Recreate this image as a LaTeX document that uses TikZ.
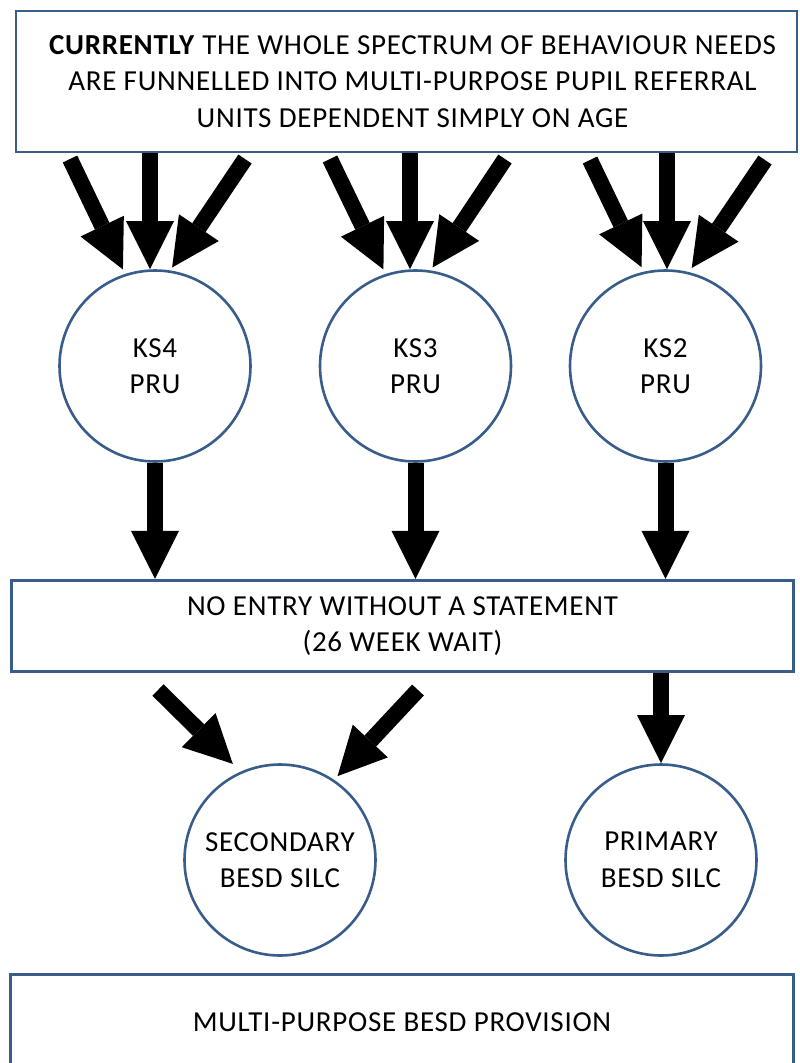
\documentclass[tikz,border=0pt]{standalone}
\usepackage{fontspec}
\setmainfont{Carlito}[LetterSpace=2.5]
\usetikzlibrary{arrows.meta}
\definecolor{edgeblue}{RGB}{56,93,138}
\newcommand{\diagfont}{\fontsize{29}{36.5}\selectfont}
\newcommand{\nudge}{\hspace*{12pt}}
\begin{document}
\begin{tikzpicture}[x=1pt,y=-1pt,
  box/.style={draw=edgeblue,line width=2.6pt,rectangle,inner sep=0pt,align=center,font=\diagfont},
  circ/.style={draw=edgeblue,line width=2.6pt,circle,minimum size=191pt,inner sep=0pt,align=center,font=\diagfont},
  blockarrow/.style={line width=16pt,-{Triangle[width=48pt,length=48pt,line width=0pt]}}]
\useasboundingbox (0,0) rectangle (800,1063);
\fill[white] (0,0) rectangle (800,1063);
% boxes
\node[box,minimum width=781pt,minimum height=141pt] (top) at (406.5,81.5)
  {\nudge\textbf{CURRENTLY} THE WHOLE SPECTRUM OF BEHAVIOUR NEEDS\\\nudge ARE FUNNELLED INTO MULTI-PURPOSE PUPIL REFERRAL\\\nudge UNITS DEPENDENT SIMPLY ON AGE};
\node[box,minimum width=782.5pt,minimum height=91.5pt] (mid) at (402.5,626)
  {NO ENTRY WITHOUT A STATEMENT\\(26 WEEK WAIT)};
\node[box,minimum width=783pt,minimum height=95.5pt] (bot) at (402,1022)
  {MULTI-PURPOSE BESD PROVISION};
% circles
\node[circ] (ks4) at (155,366) {KS4\\PRU};
\node[circ] (ks3) at (415.5,366) {KS3\\PRU};
\node[circ] (ks2) at (665.5,366) {KS2\\PRU};
\node[circ] (sec) at (280,860) {SECONDARY\\BESD SILC};
\node[circ] (pri) at (661,860) {PRIMARY\\BESD SILC};
% arrow starts
\coordinate (a4l) at (70,159);
\coordinate (a4m) at (150,153);
\coordinate (a4r) at (245,159);
\coordinate (a3l) at (330,159);
\coordinate (a3m) at (410,153);
\coordinate (a3r) at (505,159);
\coordinate (a2l) at (590,160);
\coordinate (a2m) at (667,153);
\coordinate (a2r) at (765,160);
\coordinate (bl) at (158,690);
\coordinate (br) at (418,690);
% arrows into PRUs
\draw[blockarrow,shorten >=5pt] (a4l) -- (ks4.108);
\draw[blockarrow] (a4m) -- (a4m |- ks4.north);
\draw[blockarrow,shorten >=3.5pt] (a4r) -- (ks4.81);
\draw[blockarrow,shorten >=5pt] (a3l) -- (ks3.108);
\draw[blockarrow] (a3m) -- (a3m |- ks3.north);
\draw[blockarrow,shorten >=3.5pt] (a3r) -- (ks3.81);
\draw[blockarrow,shorten >=5pt] (a2l) -- (ks2.103);
\draw[blockarrow] (a2m) -- (a2m |- ks2.north);
\draw[blockarrow,shorten >=5pt] (a2r) -- (ks2.76);
% arrows into the statement box
\draw[blockarrow] (ks4.south) -- (ks4.south |- mid.north);
\draw[blockarrow] (ks3.south) -- (ks3.south |- mid.north);
\draw[blockarrow] (ks2.south) -- (ks2.south |- mid.north);
% arrows into SILCs
\draw[blockarrow,shorten >=11pt] (bl) -- (sec.114);
\draw[blockarrow,shorten >=5pt] (br) -- (sec.56.5);
\draw[blockarrow] (mid.south -| pri) -- (pri.north);
\end{tikzpicture}
\end{document}
